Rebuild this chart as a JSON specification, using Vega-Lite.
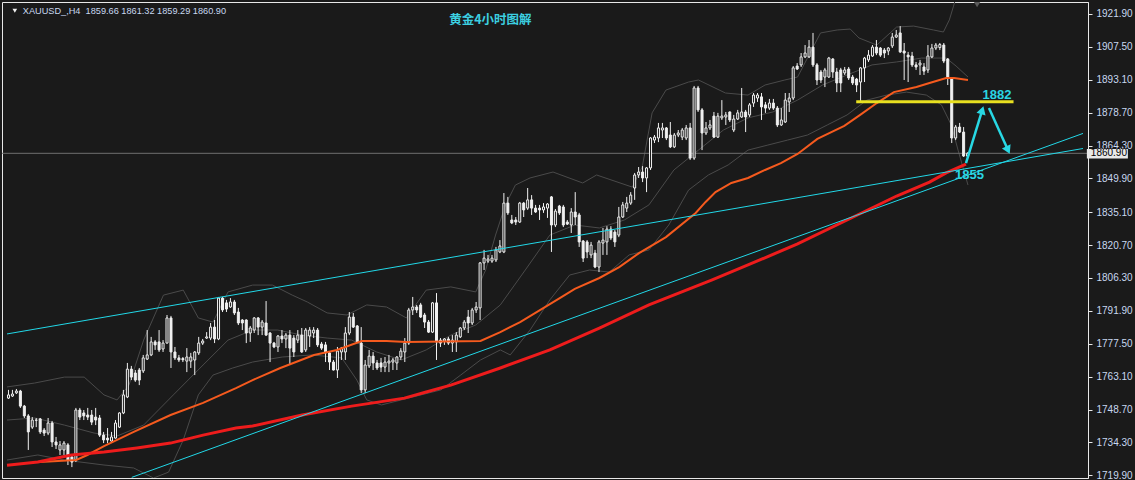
{
"$schema": "https://vega.github.io/schema/vega-lite/v6.json",
"width": 1086, "height": 476,
"autosize": {"type": "none"},
"padding": {"left": 2, "top": 2, "right": 47, "bottom": 2},
"background": "#1a1a1a",
"config": {"view": {"stroke": "#e8e8e8", "strokeWidth": 1},
 "axis": {"labelOverlap": false, "labelFlush": false, "labelBound": false, "grid": false, "domainColor": "#e8e8e8", "tickColor": "#e8e8e8", "tickSize": 4, "tickCount": 40,
          "labelColor": "#c8d8f0", "labelFont": "Liberation Sans", "labelFontSize": 10, "labelPadding": 4}},
"datasets": {
"candles": [
{"i":0,"o":1753.7,"h":1757.3,"l":1753.3,"c":1755.1},
{"i":1,"o":1754.6,"h":1757.3,"l":1754.2,"c":1755.5},
{"i":2,"o":1756.0,"h":1757.7,"l":1755.5,"c":1756.8},
{"i":3,"o":1756.8,"h":1757.3,"l":1749.4,"c":1750.2},
{"i":4,"o":1750.2,"h":1750.7,"l":1745.0,"c":1745.9},
{"i":5,"o":1745.9,"h":1746.7,"l":1731.0,"c":1738.9},
{"i":6,"o":1741.0,"h":1745.4,"l":1740.2,"c":1744.1},
{"i":7,"o":1744.1,"h":1745.0,"l":1741.0,"c":1744.0},
{"i":8,"o":1744.6,"h":1745.0,"l":1738.0,"c":1738.9},
{"i":9,"o":1739.7,"h":1740.6,"l":1737.1,"c":1738.4},
{"i":10,"o":1738.4,"h":1745.0,"l":1737.5,"c":1742.8},
{"i":11,"o":1742.8,"h":1743.7,"l":1732.3,"c":1734.5},
{"i":12,"o":1734.5,"h":1736.7,"l":1731.4,"c":1733.2},
{"i":13,"o":1731.0,"h":1734.9,"l":1728.8,"c":1733.2},
{"i":14,"o":1731.0,"h":1734.9,"l":1728.8,"c":1734.0},
{"i":15,"o":1733.2,"h":1734.0,"l":1724.4,"c":1726.6},
{"i":16,"o":1727.9,"h":1728.8,"l":1723.5,"c":1725.7},
{"i":17,"o":1726.6,"h":1749.4,"l":1725.7,"c":1748.5},
{"i":18,"o":1748.5,"h":1749.4,"l":1744.1,"c":1745.4},
{"i":19,"o":1747.2,"h":1748.5,"l":1744.1,"c":1745.9},
{"i":20,"o":1746.3,"h":1749.4,"l":1744.1,"c":1745.4},
{"i":21,"o":1746.3,"h":1748.5,"l":1741.9,"c":1743.2},
{"i":22,"o":1745.4,"h":1749.4,"l":1741.9,"c":1744.1},
{"i":23,"o":1745.0,"h":1746.3,"l":1736.7,"c":1737.5},
{"i":24,"o":1737.5,"h":1738.9,"l":1734.0,"c":1735.4},
{"i":25,"o":1736.2,"h":1740.6,"l":1734.0,"c":1735.4},
{"i":26,"o":1734.9,"h":1738.9,"l":1734.5,"c":1736.7},
{"i":27,"o":1736.2,"h":1744.1,"l":1736.0,"c":1742.8},
{"i":28,"o":1741.0,"h":1747.5,"l":1740.6,"c":1747.2},
{"i":29,"o":1747.2,"h":1757.3,"l":1746.7,"c":1755.1},
{"i":30,"o":1754.2,"h":1769.1,"l":1753.7,"c":1766.4},
{"i":31,"o":1766.4,"h":1767.8,"l":1761.6,"c":1762.9},
{"i":32,"o":1764.7,"h":1766.0,"l":1760.8,"c":1761.6},
{"i":33,"o":1766.0,"h":1766.9,"l":1759.4,"c":1761.6},
{"i":34,"o":1765.6,"h":1772.6,"l":1764.7,"c":1771.3},
{"i":35,"o":1770.8,"h":1783.5,"l":1770.4,"c":1772.6},
{"i":36,"o":1772.6,"h":1780.5,"l":1772.1,"c":1778.3},
{"i":37,"o":1778.3,"h":1779.1,"l":1774.8,"c":1777.0},
{"i":38,"o":1778.3,"h":1783.5,"l":1773.9,"c":1774.8},
{"i":39,"o":1775.2,"h":1779.1,"l":1773.9,"c":1777.8},
{"i":40,"o":1777.8,"h":1790.1,"l":1777.6,"c":1788.8},
{"i":41,"o":1788.8,"h":1789.7,"l":1766.9,"c":1773.9},
{"i":42,"o":1773.9,"h":1776.1,"l":1770.4,"c":1771.3},
{"i":43,"o":1771.3,"h":1772.6,"l":1769.5,"c":1770.4},
{"i":44,"o":1771.0,"h":1771.7,"l":1769.5,"c":1770.5},
{"i":45,"o":1769.9,"h":1775.6,"l":1765.1,"c":1771.7},
{"i":46,"o":1769.9,"h":1773.5,"l":1766.9,"c":1771.7},
{"i":47,"o":1770.4,"h":1774.3,"l":1763.8,"c":1773.9},
{"i":48,"o":1773.5,"h":1780.5,"l":1772.6,"c":1777.8},
{"i":49,"o":1777.8,"h":1779.6,"l":1777.0,"c":1778.7},
{"i":50,"o":1780.0,"h":1782.6,"l":1779.6,"c":1780.5},
{"i":51,"o":1780.0,"h":1786.6,"l":1779.1,"c":1784.8},
{"i":52,"o":1784.8,"h":1787.9,"l":1777.8,"c":1779.6},
{"i":53,"o":1779.6,"h":1798.0,"l":1779.1,"c":1797.5},
{"i":54,"o":1797.5,"h":1798.0,"l":1791.4,"c":1792.3},
{"i":55,"o":1795.4,"h":1796.7,"l":1791.4,"c":1792.7},
{"i":56,"o":1793.6,"h":1797.5,"l":1793.2,"c":1795.8},
{"i":57,"o":1795.8,"h":1796.7,"l":1790.1,"c":1791.0},
{"i":58,"o":1791.4,"h":1793.2,"l":1785.7,"c":1786.6},
{"i":59,"o":1787.9,"h":1788.3,"l":1783.5,"c":1786.6},
{"i":60,"o":1787.9,"h":1788.2,"l":1777.8,"c":1782.2},
{"i":61,"o":1782.2,"h":1785.3,"l":1778.3,"c":1784.4},
{"i":62,"o":1783.5,"h":1789.2,"l":1782.2,"c":1788.8},
{"i":63,"o":1788.8,"h":1789.2,"l":1781.3,"c":1784.8},
{"i":64,"o":1784.8,"h":1787.9,"l":1781.3,"c":1787.0},
{"i":65,"o":1786.6,"h":1796.2,"l":1781.0,"c":1781.3},
{"i":66,"o":1782.2,"h":1782.6,"l":1769.5,"c":1777.8},
{"i":67,"o":1777.8,"h":1778.3,"l":1775.6,"c":1776.1},
{"i":68,"o":1776.1,"h":1781.3,"l":1773.9,"c":1780.9},
{"i":69,"o":1780.9,"h":1783.5,"l":1777.8,"c":1779.6},
{"i":70,"o":1779.6,"h":1782.2,"l":1775.6,"c":1781.3},
{"i":71,"o":1781.3,"h":1783.5,"l":1768.2,"c":1775.6},
{"i":72,"o":1780.0,"h":1781.3,"l":1771.7,"c":1773.9},
{"i":73,"o":1779.1,"h":1783.5,"l":1777.8,"c":1781.3},
{"i":74,"o":1781.3,"h":1784.4,"l":1773.5,"c":1773.9},
{"i":75,"o":1774.8,"h":1784.4,"l":1773.9,"c":1783.5},
{"i":76,"o":1780.9,"h":1784.8,"l":1776.1,"c":1783.5},
{"i":77,"o":1782.2,"h":1784.8,"l":1780.0,"c":1783.5},
{"i":78,"o":1783.5,"h":1784.4,"l":1776.1,"c":1777.0},
{"i":79,"o":1777.4,"h":1778.3,"l":1774.8,"c":1775.6},
{"i":80,"o":1777.0,"h":1778.3,"l":1769.5,"c":1773.5},
{"i":81,"o":1773.5,"h":1773.9,"l":1766.0,"c":1769.5},
{"i":82,"o":1769.5,"h":1770.4,"l":1765.8,"c":1766.0},
{"i":83,"o":1766.0,"h":1776.1,"l":1762.5,"c":1774.3},
{"i":84,"o":1773.9,"h":1776.1,"l":1770.4,"c":1775.6},
{"i":85,"o":1773.9,"h":1784.8,"l":1770.4,"c":1782.2},
{"i":86,"o":1782.2,"h":1791.4,"l":1781.3,"c":1789.2},
{"i":87,"o":1789.2,"h":1791.0,"l":1784.4,"c":1784.8},
{"i":88,"o":1785.3,"h":1785.7,"l":1777.8,"c":1778.3},
{"i":89,"o":1777.8,"h":1784.8,"l":1755.9,"c":1757.3},
{"i":90,"o":1757.3,"h":1770.4,"l":1755.9,"c":1768.2},
{"i":91,"o":1767.8,"h":1774.8,"l":1766.9,"c":1772.1},
{"i":92,"o":1772.1,"h":1773.9,"l":1766.0,"c":1769.1},
{"i":93,"o":1769.1,"h":1770.4,"l":1766.0,"c":1766.9},
{"i":94,"o":1769.1,"h":1771.3,"l":1765.1,"c":1767.3},
{"i":95,"o":1767.3,"h":1771.7,"l":1765.1,"c":1769.5},
{"i":96,"o":1769.1,"h":1772.6,"l":1765.1,"c":1769.9},
{"i":97,"o":1769.5,"h":1771.3,"l":1766.0,"c":1770.4},
{"i":98,"o":1769.1,"h":1772.1,"l":1766.0,"c":1771.7},
{"i":99,"o":1771.7,"h":1775.6,"l":1770.4,"c":1774.3},
{"i":100,"o":1773.9,"h":1780.0,"l":1769.5,"c":1777.8},
{"i":101,"o":1777.8,"h":1793.2,"l":1777.0,"c":1792.3},
{"i":102,"o":1792.3,"h":1798.0,"l":1790.1,"c":1793.6},
{"i":103,"o":1793.6,"h":1794.5,"l":1791.0,"c":1792.3},
{"i":104,"o":1794.5,"h":1795.4,"l":1788.8,"c":1789.2},
{"i":105,"o":1790.1,"h":1791.0,"l":1784.4,"c":1787.0},
{"i":106,"o":1787.0,"h":1787.9,"l":1782.2,"c":1782.6},
{"i":107,"o":1782.6,"h":1795.8,"l":1782.2,"c":1795.4},
{"i":108,"o":1795.4,"h":1799.7,"l":1770.4,"c":1778.3},
{"i":109,"o":1779.1,"h":1780.0,"l":1776.1,"c":1777.8},
{"i":110,"o":1778.7,"h":1780.0,"l":1777.0,"c":1779.6},
{"i":111,"o":1779.6,"h":1780.5,"l":1777.0,"c":1777.8},
{"i":112,"o":1777.8,"h":1781.3,"l":1773.9,"c":1779.1},
{"i":113,"o":1778.3,"h":1782.6,"l":1773.9,"c":1781.3},
{"i":114,"o":1780.5,"h":1784.8,"l":1780.0,"c":1784.4},
{"i":115,"o":1784.4,"h":1787.9,"l":1783.5,"c":1787.0},
{"i":116,"o":1789.2,"h":1792.3,"l":1782.2,"c":1786.6},
{"i":117,"o":1786.6,"h":1793.2,"l":1785.7,"c":1792.3},
{"i":118,"o":1792.3,"h":1795.8,"l":1791.0,"c":1793.6},
{"i":119,"o":1793.2,"h":1813.3,"l":1787.9,"c":1812.9},
{"i":120,"o":1812.9,"h":1818.6,"l":1809.8,"c":1815.0},
{"i":121,"o":1813.7,"h":1816.4,"l":1812.9,"c":1814.6},
{"i":122,"o":1813.7,"h":1816.4,"l":1812.9,"c":1815.0},
{"i":123,"o":1814.2,"h":1819.9,"l":1813.3,"c":1818.6},
{"i":124,"o":1817.7,"h":1822.9,"l":1817.2,"c":1820.3},
{"i":125,"o":1817.7,"h":1843.5,"l":1817.2,"c":1839.1},
{"i":126,"o":1839.1,"h":1841.8,"l":1833.9,"c":1834.8},
{"i":127,"o":1831.7,"h":1833.9,"l":1829.9,"c":1830.4},
{"i":128,"o":1831.7,"h":1833.0,"l":1829.5,"c":1830.8},
{"i":129,"o":1830.8,"h":1839.6,"l":1830.4,"c":1839.1},
{"i":130,"o":1839.1,"h":1839.6,"l":1833.0,"c":1836.1},
{"i":131,"o":1836.9,"h":1845.7,"l":1836.1,"c":1840.5},
{"i":132,"o":1840.5,"h":1842.6,"l":1833.9,"c":1836.9},
{"i":133,"o":1836.9,"h":1838.3,"l":1834.8,"c":1835.2},
{"i":134,"o":1836.9,"h":1838.3,"l":1831.7,"c":1836.1},
{"i":135,"o":1836.1,"h":1839.1,"l":1834.8,"c":1837.4},
{"i":136,"o":1836.9,"h":1839.1,"l":1832.6,"c":1838.7},
{"i":137,"o":1841.8,"h":1842.2,"l":1817.7,"c":1829.5},
{"i":138,"o":1829.5,"h":1836.5,"l":1828.6,"c":1835.6},
{"i":139,"o":1837.8,"h":1838.3,"l":1833.9,"c":1834.8},
{"i":140,"o":1837.4,"h":1838.3,"l":1828.6,"c":1829.5},
{"i":141,"o":1830.8,"h":1831.7,"l":1829.5,"c":1829.9},
{"i":142,"o":1829.5,"h":1836.9,"l":1826.0,"c":1835.2},
{"i":143,"o":1835.2,"h":1843.9,"l":1829.5,"c":1833.0},
{"i":144,"o":1833.9,"h":1834.8,"l":1819.9,"c":1822.1},
{"i":145,"o":1822.5,"h":1822.9,"l":1813.3,"c":1815.0},
{"i":146,"o":1822.1,"h":1822.9,"l":1815.0,"c":1817.7},
{"i":147,"o":1816.4,"h":1822.1,"l":1815.0,"c":1820.7},
{"i":148,"o":1817.2,"h":1818.6,"l":1810.6,"c":1811.1},
{"i":149,"o":1811.1,"h":1822.9,"l":1808.9,"c":1822.1},
{"i":150,"o":1821.6,"h":1828.2,"l":1816.4,"c":1822.9},
{"i":151,"o":1822.1,"h":1829.0,"l":1816.4,"c":1827.7},
{"i":152,"o":1827.7,"h":1829.0,"l":1822.9,"c":1823.8},
{"i":153,"o":1826.4,"h":1827.3,"l":1819.9,"c":1822.1},
{"i":154,"o":1825.1,"h":1837.4,"l":1824.2,"c":1833.0},
{"i":155,"o":1833.0,"h":1839.6,"l":1832.6,"c":1838.3},
{"i":156,"o":1836.9,"h":1841.8,"l":1835.2,"c":1839.1},
{"i":157,"o":1839.1,"h":1843.9,"l":1838.3,"c":1842.6},
{"i":158,"o":1845.7,"h":1852.3,"l":1840.5,"c":1851.4},
{"i":159,"o":1851.4,"h":1854.9,"l":1850.1,"c":1852.7},
{"i":160,"o":1852.7,"h":1855.3,"l":1848.3,"c":1850.1},
{"i":161,"o":1850.1,"h":1854.9,"l":1843.9,"c":1854.5},
{"i":162,"o":1854.5,"h":1868.0,"l":1853.6,"c":1867.6},
{"i":163,"o":1866.7,"h":1868.9,"l":1865.4,"c":1868.0},
{"i":164,"o":1867.6,"h":1874.2,"l":1865.8,"c":1872.0},
{"i":165,"o":1871.1,"h":1874.2,"l":1867.6,"c":1872.0},
{"i":166,"o":1872.0,"h":1872.4,"l":1866.7,"c":1867.6},
{"i":167,"o":1868.9,"h":1874.6,"l":1863.2,"c":1863.7},
{"i":168,"o":1863.7,"h":1869.8,"l":1863.2,"c":1868.9},
{"i":169,"o":1868.9,"h":1871.1,"l":1868.0,"c":1869.8},
{"i":170,"o":1868.0,"h":1872.0,"l":1866.7,"c":1871.1},
{"i":171,"o":1867.6,"h":1873.3,"l":1866.7,"c":1872.0},
{"i":172,"o":1872.0,"h":1874.2,"l":1858.0,"c":1858.8},
{"i":173,"o":1858.8,"h":1890.4,"l":1858.0,"c":1889.5},
{"i":174,"o":1889.5,"h":1890.4,"l":1879.0,"c":1879.9},
{"i":175,"o":1879.9,"h":1880.7,"l":1862.3,"c":1869.8},
{"i":176,"o":1869.8,"h":1874.6,"l":1868.9,"c":1872.0},
{"i":177,"o":1872.0,"h":1875.5,"l":1871.1,"c":1873.3},
{"i":178,"o":1877.2,"h":1879.0,"l":1867.6,"c":1868.0},
{"i":179,"o":1868.0,"h":1878.6,"l":1867.6,"c":1877.2},
{"i":180,"o":1876.4,"h":1884.2,"l":1875.5,"c":1877.2},
{"i":181,"o":1876.8,"h":1879.0,"l":1873.3,"c":1877.7},
{"i":182,"o":1879.0,"h":1879.2,"l":1874.6,"c":1875.5},
{"i":183,"o":1871.1,"h":1877.7,"l":1870.2,"c":1875.9},
{"i":184,"o":1875.9,"h":1879.9,"l":1875.5,"c":1878.6},
{"i":185,"o":1876.8,"h":1889.5,"l":1876.4,"c":1879.0},
{"i":186,"o":1879.0,"h":1879.9,"l":1870.2,"c":1876.8},
{"i":187,"o":1877.7,"h":1882.9,"l":1876.8,"c":1882.1},
{"i":188,"o":1882.9,"h":1887.3,"l":1881.2,"c":1886.4},
{"i":189,"o":1885.1,"h":1887.3,"l":1883.4,"c":1886.4},
{"i":190,"o":1885.6,"h":1887.3,"l":1875.5,"c":1881.2},
{"i":191,"o":1882.1,"h":1883.4,"l":1878.6,"c":1880.7},
{"i":192,"o":1880.7,"h":1884.7,"l":1879.9,"c":1882.9},
{"i":193,"o":1882.9,"h":1884.7,"l":1879.9,"c":1880.7},
{"i":194,"o":1880.7,"h":1881.6,"l":1872.4,"c":1873.3},
{"i":195,"o":1873.3,"h":1880.7,"l":1872.9,"c":1875.5},
{"i":196,"o":1874.6,"h":1887.3,"l":1874.2,"c":1884.2},
{"i":197,"o":1883.4,"h":1887.3,"l":1879.0,"c":1885.1},
{"i":198,"o":1885.1,"h":1899.1,"l":1884.2,"c":1898.3},
{"i":199,"o":1899.1,"h":1900.4,"l":1897.4,"c":1897.8},
{"i":200,"o":1899.6,"h":1904.8,"l":1898.7,"c":1903.1},
{"i":201,"o":1903.1,"h":1908.3,"l":1902.6,"c":1904.8},
{"i":202,"o":1903.1,"h":1910.5,"l":1902.6,"c":1907.4},
{"i":203,"o":1907.4,"h":1913.6,"l":1898.7,"c":1899.6},
{"i":204,"o":1899.6,"h":1900.4,"l":1890.8,"c":1893.0},
{"i":205,"o":1896.5,"h":1897.4,"l":1891.7,"c":1893.0},
{"i":206,"o":1894.3,"h":1898.3,"l":1889.9,"c":1897.4},
{"i":207,"o":1894.3,"h":1903.1,"l":1893.9,"c":1902.6},
{"i":208,"o":1902.2,"h":1902.6,"l":1893.9,"c":1896.5},
{"i":209,"o":1896.5,"h":1898.3,"l":1887.7,"c":1891.7},
{"i":210,"o":1897.4,"h":1898.3,"l":1887.7,"c":1891.7},
{"i":211,"o":1896.1,"h":1898.7,"l":1895.2,"c":1897.4},
{"i":212,"o":1897.8,"h":1898.7,"l":1893.0,"c":1893.9},
{"i":213,"o":1894.3,"h":1895.2,"l":1890.8,"c":1891.7},
{"i":214,"o":1893.4,"h":1893.9,"l":1887.7,"c":1890.8},
{"i":215,"o":1892.1,"h":1898.7,"l":1883.4,"c":1898.3},
{"i":216,"o":1898.3,"h":1903.1,"l":1892.1,"c":1902.6},
{"i":217,"o":1901.8,"h":1906.1,"l":1900.9,"c":1903.9},
{"i":218,"o":1903.5,"h":1908.3,"l":1903.1,"c":1907.4},
{"i":219,"o":1907.4,"h":1910.5,"l":1903.9,"c":1904.8},
{"i":220,"o":1907.0,"h":1907.4,"l":1903.1,"c":1903.9},
{"i":221,"o":1906.1,"h":1907.0,"l":1902.6,"c":1904.8},
{"i":222,"o":1905.7,"h":1907.4,"l":1903.9,"c":1907.0},
{"i":223,"o":1907.9,"h":1913.6,"l":1907.0,"c":1911.8},
{"i":224,"o":1911.8,"h":1914.9,"l":1911.4,"c":1912.7},
{"i":225,"o":1913.6,"h":1916.6,"l":1904.8,"c":1905.3},
{"i":226,"o":1905.7,"h":1909.2,"l":1893.0,"c":1904.8},
{"i":227,"o":1903.9,"h":1905.3,"l":1892.1,"c":1903.1},
{"i":228,"o":1903.5,"h":1905.3,"l":1898.7,"c":1899.6},
{"i":229,"o":1899.6,"h":1900.9,"l":1897.4,"c":1898.7},
{"i":230,"o":1899.6,"h":1901.8,"l":1895.2,"c":1900.4},
{"i":231,"o":1898.7,"h":1900.4,"l":1895.2,"c":1896.9},
{"i":232,"o":1897.4,"h":1908.3,"l":1896.1,"c":1903.5},
{"i":233,"o":1903.1,"h":1908.8,"l":1902.6,"c":1907.0},
{"i":234,"o":1907.0,"h":1909.2,"l":1906.1,"c":1908.3},
{"i":235,"o":1907.2,"h":1909.2,"l":1906.1,"c":1908.5},
{"i":236,"o":1908.3,"h":1909.2,"l":1900.4,"c":1901.3},
{"i":237,"o":1902.2,"h":1902.6,"l":1890.8,"c":1893.9},
{"i":238,"o":1893.9,"h":1894.3,"l":1865.4,"c":1867.6},
{"i":239,"o":1867.6,"h":1873.3,"l":1866.7,"c":1872.4},
{"i":240,"o":1872.4,"h":1874.2,"l":1869.8,"c":1870.2},
{"i":241,"o":1870.2,"h":1872.4,"l":1859.3,"c":1859.7},
{"i":242,"o":1859.66,"h":1861.32,"l":1859.29,"c":1860.90}
],
"ma1": [
{"i":7.9,"p":1725.7},{"i":17.1,"p":1726.6},{"i":19.9,"p":1728.8},{"i":24.1,"p":1732.7},{"i":27.4,"p":1735.4},{"i":31.6,"p":1738.9},{"i":40.9,"p":1746.3},{"i":49.1,"p":1751.6},{"i":57.4,"p":1758.1},{"i":61.6,"p":1761.6},{"i":68.6,"p":1766.9},{"i":77.1,"p":1772.6},{"i":82.9,"p":1774.8},{"i":89.1,"p":1778.7},{"i":95.4,"p":1778.7},{"i":100.4,"p":1778.3},{"i":119.1,"p":1778.7},{"i":124.1,"p":1782.6},{"i":129.1,"p":1787.0},{"i":139.1,"p":1797.5},{"i":142.9,"p":1801.5},{"i":149.1,"p":1806.3},{"i":154.1,"p":1811.1},{"i":159.1,"p":1817.2},{"i":165.9,"p":1824.2},{"i":173.4,"p":1834.8},{"i":175.9,"p":1839.6},{"i":178.4,"p":1843.9},{"i":182.4,"p":1847.9},{"i":186.6,"p":1850.1},{"i":190.9,"p":1853.6},{"i":194.9,"p":1856.6},{"i":199.1,"p":1860.6},{"i":204.1,"p":1867.2},{"i":210.9,"p":1872.9},{"i":214.9,"p":1877.7},{"i":219.1,"p":1882.9},{"i":223.4,"p":1887.7},{"i":229.1,"p":1889.9},{"i":232.4,"p":1891.7},{"i":236.6,"p":1893.9},{"i":238.6,"p":1893.9},{"i":242.1,"p":1893.0}
],
"ma2": [
{"i":-0.375,"p":1724.3},{"i":7.4,"p":1725.7},{"i":15.9,"p":1728.8},{"i":24.1,"p":1730.1},{"i":32.4,"p":1731.9},{"i":40.9,"p":1734.0},{"i":49.1,"p":1737.5},{"i":57.4,"p":1740.6},{"i":61.6,"p":1741.5},{"i":74.1,"p":1746.3},{"i":86.6,"p":1750.2},{"i":99.9,"p":1753.7},{"i":105.4,"p":1756.4},{"i":111.6,"p":1759.4},{"i":124.1,"p":1766.9},{"i":136.6,"p":1774.8},{"i":149.1,"p":1784.4},{"i":161.6,"p":1794.5},{"i":177.4,"p":1805.4},{"i":186.6,"p":1812.0},{"i":199.1,"p":1821.2},{"i":211.6,"p":1831.7},{"i":224.1,"p":1842.2},{"i":232.4,"p":1848.3},{"i":236.6,"p":1852.3},{"i":241.6,"p":1856.2}
],
"bands": [
{"s":"u","i":-0.375,"p":1758.6},{"s":"u","i":6.6,"p":1760.3},{"s":"u","i":14.1,"p":1762.9},{"s":"u","i":19.1,"p":1762.9},{"s":"u","i":24.1,"p":1755.1},{"s":"u","i":27.4,"p":1752.9},{"s":"u","i":30.4,"p":1759.4},{"s":"u","i":34.1,"p":1779.1},{"s":"u","i":39.1,"p":1798.8},{"s":"u","i":44.1,"p":1801.0},{"s":"u","i":47.9,"p":1788.8},{"s":"u","i":51.6,"p":1787.0},{"s":"u","i":55.4,"p":1800.2},{"s":"u","i":61.6,"p":1803.2},{"s":"u","i":66.6,"p":1803.2},{"s":"u","i":71.6,"p":1798.8},{"s":"u","i":75.4,"p":1795.8},{"s":"u","i":80.4,"p":1791.0},{"s":"u","i":85.4,"p":1790.1},{"s":"u","i":90.4,"p":1794.5},{"s":"u","i":95.4,"p":1793.6},{"s":"u","i":100.4,"p":1788.8},{"s":"u","i":105.4,"p":1801.0},{"s":"u","i":111.6,"p":1802.4},{"s":"u","i":117.9,"p":1800.2},{"s":"u","i":120.4,"p":1809.8},{"s":"u","i":122.9,"p":1825.1},{"s":"u","i":125.4,"p":1838.3},{"s":"u","i":127.9,"p":1847.0},{"s":"u","i":131.6,"p":1850.1},{"s":"u","i":137.4,"p":1852.7},{"s":"u","i":144.9,"p":1847.9},{"s":"u","i":148.4,"p":1851.4},{"s":"u","i":157.4,"p":1846.1},{"s":"u","i":159.9,"p":1854.9},{"s":"u","i":162.4,"p":1878.6},{"s":"u","i":165.9,"p":1888.6},{"s":"u","i":171.6,"p":1892.1},{"s":"u","i":174.1,"p":1893.0},{"s":"u","i":180.9,"p":1887.3},{"s":"u","i":186.6,"p":1886.4},{"s":"u","i":190.9,"p":1890.8},{"s":"u","i":195.9,"p":1893.0},{"s":"u","i":199.1,"p":1894.3},{"s":"u","i":204.9,"p":1913.6},{"s":"u","i":209.1,"p":1914.9},{"s":"u","i":212.4,"p":1915.3},{"s":"u","i":214.6,"p":1911.4},{"s":"u","i":219.1,"p":1908.3},{"s":"u","i":224.1,"p":1916.2},{"s":"u","i":228.4,"p":1916.6},{"s":"u","i":233.4,"p":1914.9},{"s":"u","i":235.9,"p":1914.0},{"s":"u","i":237.4,"p":1919.3},{"s":"u","i":238.4,"p":1925.0},{"s":"u","i":239.6,"p":1932.4},
{"s":"m","i":-0.375,"p":1744.1},{"s":"m","i":6.6,"p":1745.0},{"s":"m","i":14.1,"p":1741.9},{"s":"m","i":21.6,"p":1738.4},{"s":"m","i":27.4,"p":1737.1},{"s":"m","i":34.1,"p":1741.9},{"s":"m","i":41.6,"p":1755.1},{"s":"m","i":49.1,"p":1768.2},{"s":"m","i":55.4,"p":1779.1},{"s":"m","i":61.6,"p":1783.5},{"s":"m","i":67.9,"p":1783.5},{"s":"m","i":74.1,"p":1781.3},{"s":"m","i":80.4,"p":1780.0},{"s":"m","i":86.6,"p":1779.1},{"s":"m","i":92.9,"p":1773.9},{"s":"m","i":99.1,"p":1770.4},{"s":"m","i":105.4,"p":1774.8},{"s":"m","i":111.6,"p":1781.3},{"s":"m","i":117.9,"p":1785.7},{"s":"m","i":124.1,"p":1794.5},{"s":"m","i":130.4,"p":1809.8},{"s":"m","i":136.6,"p":1825.1},{"s":"m","i":142.9,"p":1829.5},{"s":"m","i":149.1,"p":1828.2},{"s":"m","i":155.4,"p":1831.7},{"s":"m","i":161.6,"p":1838.3},{"s":"m","i":167.9,"p":1853.6},{"s":"m","i":174.1,"p":1862.3},{"s":"m","i":180.4,"p":1871.1},{"s":"m","i":186.6,"p":1876.4},{"s":"m","i":192.9,"p":1879.0},{"s":"m","i":199.1,"p":1884.2},{"s":"m","i":205.4,"p":1890.8},{"s":"m","i":211.6,"p":1895.2},{"s":"m","i":217.9,"p":1899.6},{"s":"m","i":224.1,"p":1900.9},{"s":"m","i":230.4,"p":1902.6},{"s":"m","i":236.6,"p":1902.6},{"s":"m","i":239.1,"p":1899.1},{"s":"m","i":242.1,"p":1894.3},
{"s":"l","i":-0.375,"p":1726.6},{"s":"l","i":7.4,"p":1728.8},{"s":"l","i":14.1,"p":1726.6},{"s":"l","i":24.1,"p":1724.4},{"s":"l","i":31.6,"p":1723.1},{"s":"l","i":36.6,"p":1718.7},{"s":"l","i":40.4,"p":1721.3},{"s":"l","i":44.1,"p":1735.4},{"s":"l","i":47.9,"p":1755.1},{"s":"l","i":51.6,"p":1763.8},{"s":"l","i":56.6,"p":1766.9},{"s":"l","i":61.6,"p":1769.5},{"s":"l","i":69.1,"p":1771.7},{"s":"l","i":76.6,"p":1772.6},{"s":"l","i":84.1,"p":1771.3},{"s":"l","i":87.9,"p":1761.6},{"s":"l","i":90.4,"p":1752.9},{"s":"l","i":94.1,"p":1750.7},{"s":"l","i":99.1,"p":1752.9},{"s":"l","i":104.1,"p":1755.1},{"s":"l","i":109.1,"p":1757.3},{"s":"l","i":114.1,"p":1763.8},{"s":"l","i":119.1,"p":1770.4},{"s":"l","i":124.1,"p":1774.8},{"s":"l","i":126.6,"p":1772.6},{"s":"l","i":131.6,"p":1783.5},{"s":"l","i":136.6,"p":1796.7},{"s":"l","i":141.6,"p":1807.6},{"s":"l","i":146.6,"p":1809.8},{"s":"l","i":151.6,"p":1808.9},{"s":"l","i":156.6,"p":1816.4},{"s":"l","i":161.6,"p":1818.6},{"s":"l","i":166.6,"p":1829.5},{"s":"l","i":171.6,"p":1844.8},{"s":"l","i":176.6,"p":1851.4},{"s":"l","i":181.6,"p":1855.8},{"s":"l","i":186.6,"p":1862.3},{"s":"l","i":191.6,"p":1864.5},{"s":"l","i":196.6,"p":1866.7},{"s":"l","i":201.6,"p":1868.9},{"s":"l","i":206.6,"p":1873.3},{"s":"l","i":211.6,"p":1877.7},{"s":"l","i":216.6,"p":1884.2},{"s":"l","i":221.6,"p":1886.4},{"s":"l","i":226.6,"p":1887.7},{"s":"l","i":231.6,"p":1886.4},{"s":"l","i":235.4,"p":1882.1},{"s":"l","i":237.9,"p":1873.3},{"s":"l","i":239.6,"p":1862.3},{"s":"l","i":242.1,"p":1847.0}
],
"trend": [
{"s":"u","i":-0.375,"p":1781.8},{"s":"u","i":271.125,"p":1863.0},
{"s":"d","i":31.1,"p":1719.0},{"s":"d","i":271.125,"p":1869.6}
],
"arrows": [
{"s":"a1","i":241.6,"p":1856.6},{"s":"a1","i":245.7,"p":1879.8},
{"s":"a2","i":247.4,"p":1880.7},{"s":"a2","i":252.2,"p":1862.3}
]
},
"layer": [
{"data": {"name": "bands"}, "mark": {"type": "line", "color": "#4a4a4a", "strokeWidth": 1, "clip": true},
 "encoding": {
  "x": {"field": "i", "type": "quantitative", "scale": {"domain": [-0.375, 271.125], "nice": false, "zero": false}, "axis": null},
  "y": {"field": "p", "type": "quantitative", "scale": {"domain": [1718.72, 1927.15], "nice": false, "zero": false}, "title": null,
        "axis": {"orient": "right", "values": [1921.9, 1907.5, 1893.1, 1878.7, 1864.3, 1849.9, 1835.1, 1820.7, 1806.3, 1791.9, 1777.5, 1763.1, 1748.7, 1734.3, 1719.9],
                 "labelExpr": "format(datum.value, '.2f')", "labelOverlap": false, "tickCount": 40, "title": null}},
  "detail": {"field": "s"}}},
{"data": {"values": [{}]}, "mark": {"type": "rule", "color": "#707070", "strokeWidth": 1},
 "encoding": {"y": {"datum": 1860.9, "type": "quantitative", "title": null}}},
{"data": {"name": "candles"}, "mark": {"type": "rule", "color": "#f0f0f0", "strokeWidth": 1},
 "encoding": {
  "x": {"field": "i", "type": "quantitative", "axis": null},
  "y": {"field": "l", "type": "quantitative", "title": null},
  "y2": {"field": "h"}}},
{"data": {"name": "candles"}, "mark": {"type": "bar", "size": 2, "stroke": "#f0f0f0", "strokeWidth": 1},
 "encoding": {
  "x": {"field": "i", "type": "quantitative", "axis": null},
  "y": {"field": "o", "type": "quantitative", "title": null},
  "y2": {"field": "c"},
  "fill": {"condition": {"test": "datum.c >= datum.o", "value": "#1a1a1a"}, "value": "#f0f0f0"}}},
{"data": {"name": "ma1"}, "mark": {"type": "line", "color": "#f55a1e", "strokeWidth": 2},
 "encoding": {
  "x": {"field": "i", "type": "quantitative", "axis": null},
  "y": {"field": "p", "type": "quantitative", "title": null}}},
{"data": {"name": "ma2"}, "mark": {"type": "line", "color": "#ee1c1c", "strokeWidth": 3},
 "encoding": {
  "x": {"field": "i", "type": "quantitative", "axis": null},
  "y": {"field": "p", "type": "quantitative", "title": null}}},
{"data": {"name": "trend"}, "mark": {"type": "line", "color": "#22d8e8", "strokeWidth": 1, "clip": true},
 "encoding": {
  "x": {"field": "i", "type": "quantitative", "axis": null},
  "y": {"field": "p", "type": "quantitative", "title": null},
  "detail": {"field": "s"}}},
{"data": {"values": [{"i": 213.9, "p": 1883.5}, {"i": 253.6, "p": 1883.5}]}, "mark": {"type": "line", "color": "#e8e020", "strokeWidth": 3},
 "encoding": {
  "x": {"field": "i", "type": "quantitative", "axis": null},
  "y": {"field": "p", "type": "quantitative", "title": null}}},
{"data": {"name": "arrows"}, "mark": {"type": "line", "color": "#28d8e4", "strokeWidth": 2.5},
 "encoding": {
  "x": {"field": "i", "type": "quantitative", "axis": null},
  "y": {"field": "p", "type": "quantitative", "title": null},
  "detail": {"field": "s"}}},
{"data": {"values": [{}]}, "mark": {"type": "point", "shape": "triangle-up", "filled": true, "color": "#28d8e4", "size": 90, "angle": 17, "opacity": 1},
 "encoding": {
  "x": {"datum": 245.7, "type": "quantitative", "axis": null},
  "y": {"datum": 1879.8, "type": "quantitative", "title": null}}},
{"data": {"values": [{}]}, "mark": {"type": "point", "shape": "triangle-up", "filled": true, "color": "#28d8e4", "size": 90, "angle": 155, "opacity": 1},
 "encoding": {
  "x": {"datum": 252.2, "type": "quantitative", "axis": null},
  "y": {"datum": 1862.3, "type": "quantitative", "title": null}}},
{"data": {"values": [{"i": 249.4, "p": 1886.6, "t": "1882"}, {"i": 242.5, "p": 1851.6, "t": "1855"}]},
 "mark": {"type": "text", "color": "#2ad6e4", "font": "Liberation Sans", "fontSize": 13, "fontWeight": "bold", "align": "center", "baseline": "middle"},
 "encoding": {
  "x": {"field": "i", "type": "quantitative", "axis": null},
  "y": {"field": "p", "type": "quantitative", "title": null},
  "text": {"field": "t"}}},
{"data": {"values": [{"i": 121.6, "p": 1919.3, "t": "黄金4小时图解"}]},
 "mark": {"type": "text", "color": "#3ccfe0", "font": "Noto Sans CJK SC", "fontSize": 12.5, "fontWeight": "bold", "align": "center", "baseline": "middle"},
 "encoding": {
  "x": {"field": "i", "type": "quantitative", "axis": null},
  "y": {"field": "p", "type": "quantitative", "title": null},
  "text": {"field": "t"}}},
{"data": {"values": [{"i": 3.6, "p": 1923.2, "t": "XAUUSD_,H4\u00a0\u00a01859.66 1861.32 1859.29 1860.90"}]},
 "mark": {"type": "text", "color": "#c8d8f0", "font": "Liberation Sans", "fontSize": 9.2, "align": "left", "baseline": "middle"},
 "encoding": {
  "x": {"field": "i", "type": "quantitative", "axis": null},
  "y": {"field": "p", "type": "quantitative", "title": null},
  "text": {"field": "t"}}},
{"data": {"values": [{}]}, "mark": {"type": "point", "shape": "triangle-down", "filled": true, "color": "#f0f0f0", "size": 22, "opacity": 1},
 "encoding": {
  "x": {"datum": 1.6, "type": "quantitative", "axis": null},
  "y": {"datum": 1923.3, "type": "quantitative", "title": null}}},
{"data": {"values": [{}]}, "mark": {"type": "point", "shape": "triangle-down", "filled": true, "color": "#5a5a5a", "size": 40, "opacity": 1},
 "encoding": {
  "x": {"datum": 244.4, "type": "quantitative", "axis": null},
  "y": {"datum": 1926.0, "type": "quantitative", "title": null}}},
{"data": {"values": [{}]}, "mark": {"type": "rect", "color": "#e8e8e8", "clip": false, "zindex": 2},
 "encoding": {
  "x": {"datum": 272.1, "type": "quantitative", "axis": null},
  "x2": {"datum": 282.45},
  "y": {"datum": 1862.8, "type": "quantitative", "title": null},
  "y2": {"datum": 1858.6}}},
{"data": {"values": [{"i": 273.1, "p": 1860.9, "t": "1860.90"}]},
 "mark": {"type": "text", "color": "#000000", "font": "Liberation Sans", "fontSize": 10, "align": "left", "baseline": "middle", "clip": false, "zindex": 3},
 "encoding": {
  "x": {"field": "i", "type": "quantitative", "axis": null},
  "y": {"field": "p", "type": "quantitative", "title": null},
  "text": {"field": "t"}}}
]
}
